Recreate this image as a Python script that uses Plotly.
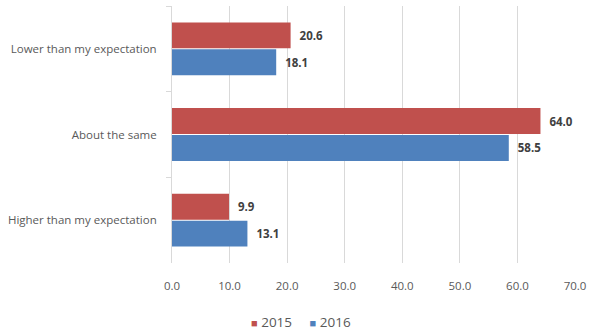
import plotly.graph_objects as go

categories = ["Lower than my expectation", "About the same", "Higher than my expectation"]
series_names = ["2015", "2016"]
values_2015 = [20.6, 64.0, 9.9]
values_2016 = [18.1, 58.5, 13.1]
colors = ["#C0504D", "#4F81BD"]
tick_vals = [0, 10, 20, 30, 40, 50, 60, 70]
tick_text = ["0.0", "10.0", "20.0", "30.0", "40.0", "50.0", "60.0", "70.0"]

fig = go.Figure()
for name, vals, col in zip(series_names, [values_2015, values_2016], colors):
    fig.add_trace(go.Bar(
        y=categories, x=vals, name=name, orientation="h",
        marker=dict(color=col, line=dict(width=0)),
        text=[f"{v:.1f}" for v in vals], textposition="outside",
        textfont=dict(family="Open Sans", size=11.5, color="#404040"),
        texttemplate="\u00a0\u00a0<b>%{text}</b>", cliponaxis=False,
        showlegend=False,
    ))

# compact legend (small squares close to the labels, as in the reference)
legend_text = "\u00a0\u00a0\u00a0\u00a0\u00a0".join(
    f"<span style='color:{col};font-size:11px'>■</span> {name}"
    for name, col in zip(series_names, colors)
)
fig.add_annotation(
    text=legend_text, xref="paper", yref="paper",
    x=0.32, y=-0.23, xanchor="center", yanchor="middle",
    showarrow=False, font=dict(family="Open Sans", size=13.5, color="#595959"),
)

fig.update_layout(
    width=600, height=331,
    margin=dict(l=172, r=25, t=6, b=68),
    paper_bgcolor="white", plot_bgcolor="white",
    barmode="group", bargap=0.37, bargroupgap=0.04,
    font=dict(family="Open Sans", size=11.5, color="#595959"),
    showlegend=False,
    xaxis=dict(range=[0, 70], tickvals=tick_vals, ticktext=tick_text,
               showgrid=True, gridcolor="#D9D9D9", gridwidth=1,
               zeroline=False, showline=False, ticks="",
               ticklabelstandoff=14,
               tickfont=dict(size=11.5, color="#595959")),
    yaxis=dict(autorange="reversed", showline=True, linecolor="#D9D9D9",
               ticks="outside", tickson="boundaries", ticklen=5, tickcolor="#D9D9D9",
               tickfont=dict(size=11.5, color="#595959"), ticklabelstandoff=12),
)

fig.write_html("out.html")
